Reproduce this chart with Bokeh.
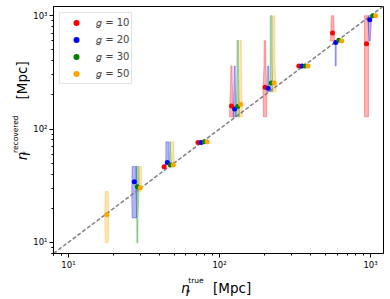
import numpy as np
from bokeh.plotting import figure
from bokeh.layouts import row, column
from bokeh.models import Range1d, FixedTicker, Label
from bokeh.embed import file_html
from bokeh.resources import INLINE

nan = float("nan")

# ---------------- data ----------------
eta_true = [15.6, 26, 43, 72, 120, 200, 335, 560, 940]
g_values = [10, 20, 30, 50]
g_colors = ["#ff0000", "#0000ff", "#008000", "#ffa500"]
x_shift = [1.00, 1.05, 1.10, 1.15]   # small horizontal offset per g for visibility

rec_g10 = [nan, nan, 46.4, 76, 160, 234, 360, 703, 567]
rec_g20 = [nan, 34.2, 50.5, 76, 150, 229, 360, 582, 922]
rec_g30 = [nan, 30.9, 48.2, 77, 158, 255, 360, 607, 1000]
rec_g50 = [17.5, 30.3, 48.2, 77, 165, 255, 360, 598, 1000]

# violin extent (low / high of recovered distribution)
lo_g10 = [nan, nan, nan, nan, 128, 128, nan, 598, 128]
hi_g10 = [nan, nan, nan, nan, 360, 603, nan, 1000, 1000]
lo_g20 = [nan, 16.4, 48, nan, 128, 213, nan, 360, 598]
hi_g20 = [nan, 46.6, 77, nan, 360, 360, nan, 582, 1000]
lo_g30 = [nan, 9.9, 48, nan, 128, 213, nan, nan, nan]
hi_g30 = [nan, 46.6, 77, nan, 607, 1000, nan, nan, nan]
lo_g50 = [9.9, 28, 48, nan, 128, 213, nan, nan, nan]
hi_g50 = [28, 46.6, 77, nan, 607, 1000, nan, nan, nan]

# violin density profile (relative half width, bottom -> top)
dens_g10 = [None, None, None, None, [2, 1.5, 0.8, 0.6], [1.5, 2, 1, 0.7], None, [2, 1.7, 1.5, 1.2], [2, 2, 2, 2]]
dens_g20 = [None, [2.2, 2.5, 2.5, 2.2], [2, 1.5, 1.5, 1.5], None, [1.5, 1, 0.7, 0.5], [0.6, 0.5, 0.5, 0.5], None, [0.5, 0.5, 0.5, 0.5], [0.5, 1, 1.5, 1.5]]
dens_g30 = [None, [0.5, 0.6, 1.5, 1.5], [1, 0.8, 0.6, 0.6], None, [2, 1, 0.8, 0.7], [1.5, 1.1, 1, 1], None, None, None]
dens_g50 = [[1.5, 2, 2, 1.5], [1, 1.2, 1.2, 1], [1, 0.8, 0.6, 0.6], None, [2, 1.2, 0.8, 0.7], [2, 1, 0.8, 0.8], None, None, None]

rec_all = [rec_g10, rec_g20, rec_g30, rec_g50]
lo_all = [lo_g10, lo_g20, lo_g30, lo_g50]
hi_all = [hi_g10, hi_g20, hi_g30, hi_g50]
dens_all = [dens_g10, dens_g20, dens_g30, dens_g50]

tick_labels = {10: "10¹", 100: "10²", 1000: "10³"}

# ---------------- layout sizes ----------------
TOTAL_W, TOTAL_H = 390, 299
YL_W = 30          # strip (left) holding the y-axis label
XL_H = 27          # strip (bottom) holding the x-axis label
MAIN_W, MAIN_H = TOTAL_W - YL_W, TOTAL_H - XL_H
FRAME_L, FRAME_T, FRAME_R, FRAME_B = 51, 6, 383, 254   # page px

x_lo, x_hi = 7.965, 1218
y_lo, y_hi = 7.957, 1207
dec_per_px = (np.log10(x_hi) - np.log10(x_lo)) / (FRAME_R - FRAME_L)

p = figure(width=MAIN_W, height=MAIN_H, x_axis_type="log", y_axis_type="log",
           x_range=Range1d(x_lo, x_hi), y_range=Range1d(y_lo, y_hi),
           output_backend="svg", toolbar_location=None,
           min_border_left=FRAME_L - YL_W, min_border_right=TOTAL_W - FRAME_R,
           min_border_top=FRAME_T, min_border_bottom=MAIN_H - FRAME_B)
p.xgrid.visible = False
p.ygrid.visible = False
p.background_fill_color = "white"
p.border_fill_color = "white"
p.outline_line_color = "black"
p.outline_line_width = 1

minor = [m * 10 ** d for d in range(0, 3) for m in range(2, 10)] + [8, 9]
for ax in (p.xaxis[0], p.yaxis[0]):
    ax.ticker = FixedTicker(ticks=list(tick_labels.keys()), minor_ticks=minor)
    ax.major_label_overrides = tick_labels
    ax.major_label_text_font = "DejaVu Sans"
    ax.major_label_text_font_size = "8.5px"
    ax.major_label_text_color = "black"
    ax.major_tick_in = 0
    ax.major_tick_out = 4
    ax.minor_tick_in = 0
    ax.minor_tick_out = 2
    ax.axis_line_color = "black"
    ax.major_tick_line_color = "black"
    ax.minor_tick_line_color = "black"
    ax.major_label_standoff = 2

# violins
for gi, col in enumerate(g_colors):
    xs_list, ys_list = [], []
    for ci, xt in enumerate(eta_true):
        lo, hi, dens = lo_all[gi][ci], hi_all[gi][ci], dens_all[gi][ci]
        if dens is None or np.isnan(lo):
            continue
        xc = xt * x_shift[gi]
        n = len(dens)
        ylev = [10 ** (np.log10(lo) + k / (n - 1) * (np.log10(hi) - np.log10(lo))) for k in range(n)]
        left = [xc * 10 ** (-w * dec_per_px) for w in dens]
        right = [xc * 10 ** (w * dec_per_px) for w in dens]
        xs_list.append(left + right[::-1])
        ys_list.append(ylev + ylev[::-1])
    if xs_list:
        p.patches(xs_list, ys_list, fill_color=col, fill_alpha=0.3,
                  line_color=col, line_alpha=0.3, line_width=1)

# identity line
p.line([x_lo, x_hi], [x_lo, x_hi], line_color="gray", line_width=1.5, line_dash="4 2")

# points
for gi, (g, col) in enumerate(zip(g_values, g_colors)):
    xs = [xt * x_shift[gi] for xt in eta_true]
    p.scatter(xs, rec_all[gi], size=5, fill_color=col, line_color=None,
              legend_label=f"𝑔 = {g}")

lg = p.legend[0]
lg.location = "top_left"
lg.margin = 6
lg.padding = 2
lg.spacing = 2
lg.glyph_width = 28
lg.glyph_height = 15
lg.label_height = 15
lg.label_standoff = 6
lg.label_text_font = "DejaVu Sans"
lg.label_text_font_size = "10px"
lg.border_line_color = "#cccccc"
lg.background_fill_alpha = 0.8


def strip(w, h):
    f = figure(width=w, height=h, x_range=Range1d(0, 1), y_range=Range1d(0, 1),
               output_backend="svg", toolbar_location=None,
               x_axis_location=None, y_axis_location=None,
               min_border=0, min_border_left=0, min_border_right=0,
               min_border_top=0, min_border_bottom=0)
    f.outline_line_color = None
    f.background_fill_color = "white"
    f.border_fill_color = "white"
    f.grid.visible = False
    return f


xfig = strip(TOTAL_W, XL_H)
yfig = strip(YL_W, MAIN_H)


def lab(fig, org, text, px, py, size, style="normal", angle=0.0):
    # org = (page x of strip's left edge, page y of strip's bottom edge)
    fig.add_layout(Label(x=px - org[0], y=org[1] - py, x_units="screen", y_units="screen",
                         text=text, text_font="DejaVu Sans", text_font_size=f"{size}px",
                         text_font_style=style, angle=angle, text_color="black",
                         text_align="left", text_baseline="alphabetic"))


XO = (0, TOTAL_H)
YO = (0, MAIN_H)
# x label (page px: x, baseline y)
lab(xfig, XO, "η", 180.5, 287, 13.5, "italic")
lab(xfig, XO, "*", 185.5, 292, 9)
lab(xfig, XO, "true", 187.7, 280.3, 7.5)
lab(xfig, XO, "[Mpc]", 212.5, 287, 13.5)
# y label (rotated; page px: baseline x, start y)
A = np.pi / 2
lab(yfig, YO, "η", 21.5, 179, 13.5, "italic", A)
lab(yfig, YO, "*", 25, 174, 8.5, "normal", A)
lab(yfig, YO, "recovered", 14.8, 171.5, 7.5, "normal", A)
lab(yfig, YO, "[Mpc]", 21.5, 118, 13.5, "normal", A)

layout = column(row(yfig, p, spacing=0), xfig, spacing=0)

open("out.html", "w").write(file_html(layout, INLINE))
